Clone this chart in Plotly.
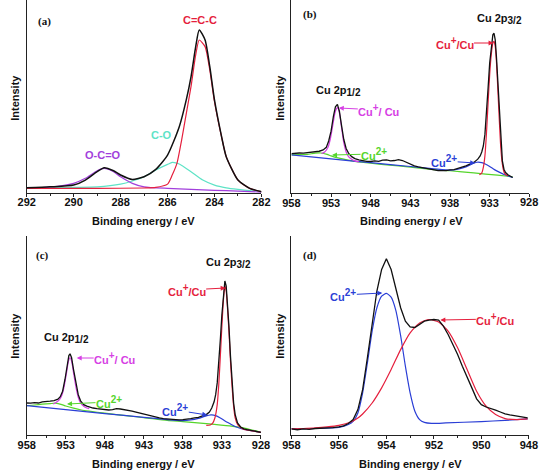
import plotly.graph_objects as go

# ---------------- data ----------------
# Panel (a): C 1s
a_total_x = [292, 291, 290, 289.5, 289, 288.7, 288.3, 288, 287.5, 287, 286.5, 286, 285.5, 285.2, 285, 284.8, 284.65, 284.4, 284.2, 284, 283.7, 283.5, 283, 282.5, 282]
a_total_y = [2.9, 3.4, 4.3, 6.9, 11.2, 13.3, 11.7, 9.5, 7.2, 8.6, 12.4, 19.8, 34.5, 48.5, 60.3, 75.9, 84.5, 79.3, 65.5, 48.3, 29.5, 19.0, 6.9, 2.6, 0.9]
a_ccc_x = [292, 289, 287, 286.5, 286, 285.8, 285.6, 285.4, 285.2, 285, 284.8, 284.65, 284.4, 284.2, 284, 283.7, 283.5, 283, 282.5, 282]
a_ccc_y = [2.6, 2.6, 2.8, 3.1, 4.8, 9.5, 15.5, 27.6, 41.4, 55.2, 71.6, 79.3, 75.9, 63.8, 47.4, 29.3, 19.0, 6.9, 2.6, 0.9]
a_co_x = [292, 290, 289, 288, 287.5, 287, 286.5, 286, 285.8, 285.5, 285, 284.5, 284, 283.5, 283, 282]
a_co_y = [2.6, 3.1, 3.4, 4.8, 6.4, 8.6, 12.1, 15.0, 16.0, 15.2, 11.2, 6.9, 4.3, 2.9, 2.1, 0.9]
a_oco_x = [292, 291, 290, 289.5, 289, 288.7, 288.3, 288, 287.5, 287, 286, 285, 284, 283, 282]
a_oco_y = [2.9, 3.3, 5.2, 7.8, 11.7, 12.9, 11.2, 8.6, 5.2, 3.4, 2.6, 2.1, 1.6, 1.2, 0.7]

# Panel (b): Cu 2p
b_total_x = [958, 957.5, 957, 956.5, 956, 955.5, 955, 954.5, 954, 953.6, 953.3, 953.0, 952.7, 952.45, 952.2, 951.95, 951.7, 951.4, 951.1, 950.8, 950.4, 950,
             949.5, 949, 948.5, 948, 947.5, 947, 946.5, 946, 945.5, 945, 944.5, 944, 943.5, 943, 942.5, 942, 941.5, 941, 940.5, 940, 939.5, 939, 938.5, 938,
             937.5, 937, 936.5, 936, 935.5, 935, 934.5, 934.2, 934.0, 933.8, 933.6, 933.4, 933.2, 933.0, 932.8, 932.6, 932.45, 932.3, 932.15, 932.0, 931.8,
             931.6, 931.4, 931.2, 931.0, 930.7, 930.4, 930.1]
b_total_y = [20.6, 20.8, 20.9, 20.8, 21.1, 21.3, 21.4, 21.8, 22.5, 23.8, 27.1, 32.2, 40.0, 44.8, 46.0, 42.5, 35.7, 28.0, 23.2, 20.8, 19.0, 18.0,
             17.3, 16.8, 16.6, 16.5, 16.8, 16.6, 17.2, 17.3, 16.8, 17.0, 17.5, 17.0, 16.0, 14.9, 14.2, 13.7, 13.4, 12.9, 12.5, 12.2, 11.8, 11.7, 11.8, 12.2,
             12.3, 12.9, 13.4, 14.2, 15.1, 16.0, 17.7, 19.4, 21.4, 24.5, 30.5, 40.8, 54.5, 67.4, 76.8, 82.0, 82.8, 79.4, 70.8, 58.8, 41.7,
             26.2, 16.8, 12.5, 10.8, 9.6, 8.7, 8.2]
b_cu1_32_x = [934.3, 934.0, 933.8, 933.6, 933.4, 933.2, 933.0, 932.8, 932.6, 932.45, 932.3, 932.15, 932.0, 931.8, 931.6, 931.4, 931.2, 931.0, 930.7]
b_cu1_32_y = [9.6, 10.5, 13.4, 19.4, 31.4, 46.8, 61.4, 71.7, 77.7, 78.6, 76.0, 68.3, 56.3, 39.1, 23.7, 15.1, 11.1, 9.8, 9.1]
b_cu2_32_x = [958, 953, 948, 943, 940, 938, 937, 936, 935.3, 934.6, 934.0, 933.5, 933.0, 932.4, 931.8, 931.2, 930.6, 930.1]
b_cu2_32_y = [19.9, 17.8, 15.9, 13.9, 12.7, 12.0, 12.5, 13.7, 15.1, 16.1, 15.9, 15.1, 13.9, 12.3, 11.0, 9.8, 8.9, 8.2]
b_cu2_12_x = [958, 957, 956, 955, 954.3, 953.5, 953, 952, 951, 950, 948, 946, 943, 940, 938, 935, 932, 930.1]
b_cu2_12_y = [19.9, 20.1, 20.2, 20.8, 20.9, 20.2, 19.4, 18.2, 17.3, 16.6, 15.6, 14.8, 13.6, 12.3, 11.7, 10.6, 9.4, 8.6]
b_cu1_12_x = [954.2, 953.8, 953.4, 953.1, 952.8, 952.5, 952.3, 952.15, 951.95, 951.7, 951.4, 951.1, 950.8, 950.4, 950, 949.5]
b_cu1_12_y = [20.6, 21.4, 23.7, 28.0, 34.8, 41.7, 43.9, 44.3, 41.7, 34.8, 26.2, 21.4, 19.0, 17.7, 16.8, 16.3]

# Panel (c): Cu 2p
c_total_x = [958, 957.5, 957, 956.5, 956, 955.5, 955, 954.5, 954, 953.7, 953.4, 953.1, 952.8, 952.6, 952.45, 952.25, 952.0, 951.7, 951.4, 951.1, 950.7, 950.3, 950,
             949.5, 949, 948.5, 948, 947.5, 947, 946.5, 946, 945.5, 945, 944.5, 944, 943.5, 943, 942.5, 942, 941.5, 941, 940.5, 940, 939.5, 939, 938.5, 938,
             937.5, 937, 936.5, 936, 935.5, 935, 934.6, 934.3, 934.0, 933.8, 933.6, 933.4, 933.2, 933.0, 932.8, 932.62, 932.45, 932.3, 932.1, 931.9, 931.7,
             931.5, 931.3, 931.0, 930.6, 930.2, 929.8, 929.4, 929, 928.6, 928.2, 928]
c_total_y = [16.2, 16.1, 16.4, 16.2, 16.8, 16.8, 17.1, 17.4, 18.1, 19.4, 22.1, 28.0, 35.5, 40.0, 40.9, 38.9, 33.0, 25.8, 20.4, 17.3, 15.4, 14.6, 14.2,
             13.7, 13.4, 13.2, 13.2, 12.7, 12.9, 13.4, 13.2, 12.9, 12.6, 12.1, 11.6, 11.1, 10.7, 10.1, 9.5, 9.0, 8.7, 8.4, 8.2, 7.9, 7.9, 7.7, 7.9,
             8.0, 8.4, 8.7, 9.0, 9.7, 10.4, 11.7, 13.7, 16.8, 20.4, 26.3, 35.5, 48.1, 60.6, 71.5, 77.4, 74.9, 67.3, 54.8, 39.7, 26.3,
             16.2, 10.4, 6.2, 4.2, 3.2, 2.8, 2.5, 2.2, 1.8, 1.7, 1.5]
c_cu1_32_x = [935, 934.5, 934.2, 933.9, 933.6, 933.4, 933.2, 933.0, 932.8, 932.62, 932.45, 932.3, 932.1, 931.9, 931.7, 931.5, 931.3, 931.0, 930.6, 930.2, 929.5, 929, 928.5, 928]
c_cu1_32_y = [5.0, 5.2, 6.0, 8.7, 15.4, 25.5, 39.7, 54.8, 68.2, 74.9, 72.4, 64.8, 52.3, 37.2, 24.6, 14.6, 8.7, 5.4, 3.9, 3.0, 2.5, 2.2, 1.8, 1.5]
c_cu2_32_x = [958, 953, 948, 943, 940, 938, 937, 936, 935.2, 934.4, 933.8, 933.2, 932.6, 932, 931.3, 930.6, 929.8, 929, 928]
c_cu2_32_y = [14.9, 12.9, 10.9, 9.0, 7.9, 7.4, 7.7, 8.5, 9.5, 10.2, 9.9, 8.7, 7.2, 5.9, 4.4, 3.4, 2.7, 2.2, 1.5]
c_cu2_12_x = [958, 957, 956, 955, 954.3, 953.5, 953, 952, 951, 950, 948, 945, 943, 940, 938, 935, 932, 930, 928]
c_cu2_12_y = [14.9, 15.2, 15.6, 15.9, 16.1, 15.4, 14.7, 13.6, 12.7, 12.1, 11.1, 9.7, 8.9, 7.5, 6.9, 5.9, 4.7, 3.5, 1.5]
c_cu1_12_x = [954.6, 954.2, 953.8, 953.5, 953.2, 952.9, 952.65, 952.45, 952.25, 952.0, 951.7, 951.4, 951.1, 950.7, 950.3, 950]
c_cu1_12_y = [15.7, 16.6, 17.9, 20.1, 24.6, 31.3, 37.2, 38.9, 37.2, 31.3, 24.3, 19.1, 16.2, 14.6, 13.7, 13.4]

# Panel (d): Cu 2p1/2 region
d_total_x = [958, 957.75, 957.5, 957.25, 957, 956.75, 956.5, 956.25, 956, 955.8, 955.6, 955.4, 955.2, 955.0, 954.8, 954.6, 954.4, 954.2, 954.0,
             953.8, 953.6, 953.4, 953.2, 953.0, 952.8, 952.6, 952.4, 952.2, 952.0, 951.8, 951.6, 951.4, 951.2, 951.0, 950.8, 950.6, 950.4, 950.2,
             950.0, 949.8, 949.6, 949.4, 949.2, 949.0, 948.8, 948.6, 948.4, 948.2, 948.05]
d_total_y = [3.2, 2.8, 3.2, 3.0, 3.4, 3.5, 3.7, 3.9, 4.2, 4.7, 5.9, 7.9, 12.9, 22.9, 38.9, 56.4, 72.4, 83.2, 88.6,
             83.2, 73.2, 64.0, 57.3, 54.4, 54.1, 55.6, 57.3, 57.8, 58.1, 57.8, 54.8, 50.6, 45.6, 40.5, 34.7, 29.6, 23.8, 18.3,
             15.4, 14.2, 13.2, 12.6, 11.7, 10.7, 10.2, 9.9, 9.4, 9.0, 8.7]
d_cu1_x = [958, 957.5, 957, 956.5, 956, 955.5, 955.2, 955, 954.6, 954.2, 953.8, 953.4, 953.0, 952.6, 952.2, 951.8, 951.4, 951.0, 950.6, 950.2, 949.8, 949.4, 949.0, 948.5, 948.05]
d_cu1_y = [3.2, 3.4, 3.7, 4.2, 5.0, 6.7, 8.7, 10.7, 16.2, 23.8, 33.0, 43.0, 51.4, 56.4, 58.1, 56.8, 52.3, 43.9, 33.0, 22.1, 14.6, 10.4, 8.4, 7.9, 8.2]
d_cu2_x = [958, 957, 956, 955.6, 955.4, 955.2, 955.0, 954.8, 954.6, 954.4, 954.2, 954.0, 953.8, 953.6, 953.4, 953.2, 953.0, 952.8, 952.6, 952.4, 952.1, 951.5, 950, 949, 948.05]
d_cu2_y = [3.2, 3.4, 4.0, 5.4, 7.0, 11.2, 21.3, 36.3, 52.3, 64.0, 69.8, 71.2, 69.3, 62.6, 50.0, 34.7, 21.3, 12.1, 7.9, 6.5, 6.0, 6.2, 6.9, 7.5, 8.2]

a_ticks = [292, 290, 288, 286, 284, 282]
bc_ticks = [958, 953, 948, 943, 938, 933, 928]
b_ticks = [958, 953, 948, 943, 938, 933]
d_ticks = [958, 956, 954, 952, 950, 948]

# ---------------- styling ----------------
W, H = 548, 471
BLACK = "#111111"
RED = "#e51f3d"
CYAN = "#5ee3c6"
PURPLE = "#a23fdc"
MAGENTA = "#d640e4"
GREEN = "#55d52b"
BLUE = "#2b3fd6"
SANS = "Liberation Sans, Arial, sans-serif"
SERIF = "Liberation Serif, Times New Roman, serif"


def P(x, y):
    return x / W, 1 - y / H


fig = go.Figure()


def add(x, y, color, ax, width=1.2, shape="spline"):
    fig.add_trace(go.Scatter(x=x, y=y, mode="lines", xaxis="x" + ax, yaxis="y" + ax,
                             line=dict(color=color, width=width, shape=shape, smoothing=0.6),
                             showlegend=False, hoverinfo="skip"))


# panel a
add(a_co_x, a_co_y, CYAN, "")
add(a_oco_x, a_oco_y, PURPLE, "")
add(a_ccc_x, a_ccc_y, RED, "")
add(a_total_x, a_total_y, BLACK, "", 1.5)
# panel b
add(b_cu2_12_x, b_cu2_12_y, GREEN, "2")
add(b_cu2_32_x, b_cu2_32_y, BLUE, "2")
add(b_cu1_12_x, b_cu1_12_y, MAGENTA, "2")
add(b_cu1_32_x, b_cu1_32_y, RED, "2")
add(b_total_x, b_total_y, BLACK, "2", 1.3, "linear")
# panel c
add(c_cu2_12_x, c_cu2_12_y, GREEN, "3")
add(c_cu2_32_x, c_cu2_32_y, BLUE, "3")
add(c_cu1_12_x, c_cu1_12_y, MAGENTA, "3")
add(c_cu1_32_x, c_cu1_32_y, RED, "3")
add(c_total_x, c_total_y, BLACK, "3", 1.3, "linear")
# panel d
add(d_cu2_x, d_cu2_y, BLUE, "4")
add(d_cu1_x, d_cu1_y, RED, "4")
add(d_total_x, d_total_y, BLACK, "4", 1.3, "linear")

tickfont = dict(family=SANS, size=11, color="#111", weight="bold")


def xaxis(dom, rng, ticks, minor_dt, anchor, standoff, labelled=None):
    # every tick in `ticks` gets a mark; only those in `labelled` get a text label
    labelled = ticks if labelled is None else labelled
    texts = [str(t) if t in labelled else "" for t in ticks]
    return dict(domain=dom, range=rng, anchor=anchor, showline=True, linecolor="#222", linewidth=1,
                showgrid=False, zeroline=False, ticks="outside", ticklen=3, tickwidth=1, tickcolor="#222",
                tickmode="array", tickvals=ticks, ticktext=texts, tickfont=tickfont,
                ticklabelstandoff=standoff, ticklabeloverflow="allow",
                minor=dict(dtick=minor_dt, tick0=ticks[0], ticks="outside", ticklen=2, tickcolor="#222", showgrid=False))


def yaxis(dom, anchor):
    return dict(domain=dom, range=[0, 100], anchor=anchor, showline=True, linecolor="#222", linewidth=1,
                showgrid=False, zeroline=False, showticklabels=False, ticks="")


top = [1 - 193.4 / H, 1.0]
bot = [1 - 435.3 / H, 1 - 236 / H]
B_END = 538.0
fig.update_layout(
    width=W, height=H, autosize=False,
    margin=dict(l=0, r=0, t=0, b=0),
    paper_bgcolor="white", plot_bgcolor="white",
    showlegend=False,
    xaxis=xaxis([18.3 / W, 261 / W], [292, 282], a_ticks, 1, "y", -5),
    yaxis=yaxis(top, "x"),
    xaxis2=xaxis([292 / W, B_END / W], [958, 928], bc_ticks, 2.5, "y2", -4, b_ticks),
    yaxis2=yaxis(top, "x2"),
    xaxis3=xaxis([18.3 / W, 260.5 / W], [958, 928], bc_ticks, 2.5, "y3", -4),
    yaxis3=yaxis(bot, "x3"),
    xaxis4=xaxis([292 / W, 537.5 / W], [958, 948], d_ticks, 1, "y4", -4),
    yaxis4=yaxis(bot, "x4"),
)

ann = []


def label(text, x, y, color, family=SANS, size=11, angle=0):
    px, py = P(x, y)
    ann.append(dict(text=text, x=px, y=py, xref="paper", yref="paper", showarrow=False,
                    xanchor="center", yanchor="middle", textangle=angle,
                    font=dict(family=family, size=size, color=color, weight="bold")))


def pointer(text, tx, ty, hx, hy, color):
    # text centred at (tx, ty); arrow runs from the text box to the head (hx, hy)
    px, py = P(hx, hy)
    ann.append(dict(text=text, x=px, y=py, xref="paper", yref="paper", showarrow=True,
                    ax=tx - hx, ay=ty - hy, axref="pixel", ayref="pixel",
                    arrowhead=2, arrowsize=1, arrowwidth=1, arrowcolor=color, standoff=0,
                    borderpad=0, font=dict(family=SANS, size=11, color=color, weight="bold")))


SUB32 = "Cu 2p<sub><span style='font-size:10px'>3/2</span></sub>"
SUB12 = "Cu 2p<sub><span style='font-size:10px'>1/2</span></sub>"
CU1 = "Cu<sup><span style='font-size:10px'>+</span></sup>/Cu"
CU1S = "Cu<sup><span style='font-size:10px'>+</span></sup>/ Cu"
CU2 = "Cu<sup><span style='font-size:10px'>2+</span></sup>"

# end label of panel (b)'s energy axis (placed at the 928 tick, on the axis scale)
ann.append(dict(text=str(bc_ticks[-1]), x=bc_ticks[-1], xref="x2", y=1 - 201.5 / H, yref="paper",
                showarrow=False, xanchor="center", yanchor="middle", font=tickfont))

# axis titles
for cx, cy in [(139, 221), (416, 221), (139, 464), (415, 464)]:
    label("Binding energy / eV", cx, cy, "#111")
for cx, cy in [(6, 98), (280, 98), (6, 336), (280, 336)]:
    label("Intensity", cx, cy, "#111", angle=-90)

# panel a labels
label("(a)", 37, 22, "#111", SERIF, 11)
label("C=C-C", 197, 20, RED)
label("C-O", 158, 135, CYAN)
label("O-C=O", 97, 155, PURPLE)
# panel b labels
label("(b)", 311, 15, "#111", SERIF, 11)
label(SUB32, 507, 19, "#111")
pointer(CU1, 462, 43, 501, 43, RED)
label(SUB12, 341, 91, "#111")
pointer(CU1S, 381, 110, 341, 108, MAGENTA)
pointer(CU2, 376, 154, 334, 155, GREEN)
pointer(CU2, 451, 161, 482, 163, BLUE)
# panel c labels
label("(c)", 35, 255, "#111", SERIF, 11)
label(SUB32, 227, 263, "#111")
pointer(CU1, 185, 290, 224, 288, RED)
label(SUB12, 59, 338, "#111")
pointer(CU1S, 108, 358, 70, 358, MAGENTA)
pointer(CU2, 102, 402, 60, 404, GREEN)
pointer(CU2, 173, 410, 205, 415, BLUE)
# panel d labels
label("(d)", 311, 255, "#111", SERIF, 11)
pointer(CU2, 347, 295, 386, 293, BLUE)
pointer(CU1, 501, 319, 446, 320, RED)

fig.update_layout(annotations=ann)
fig.write_html(
    "out.html", config={"displayModeBar": False},
    post_script=("document.body.style.margin='0';document.body.style.padding='0';"
                 "var gd=document.getElementById('{plot_id}');"
                 "Plotly.relayout(gd,{'xaxis2.ticklabeloverflow':'allow'});"))
